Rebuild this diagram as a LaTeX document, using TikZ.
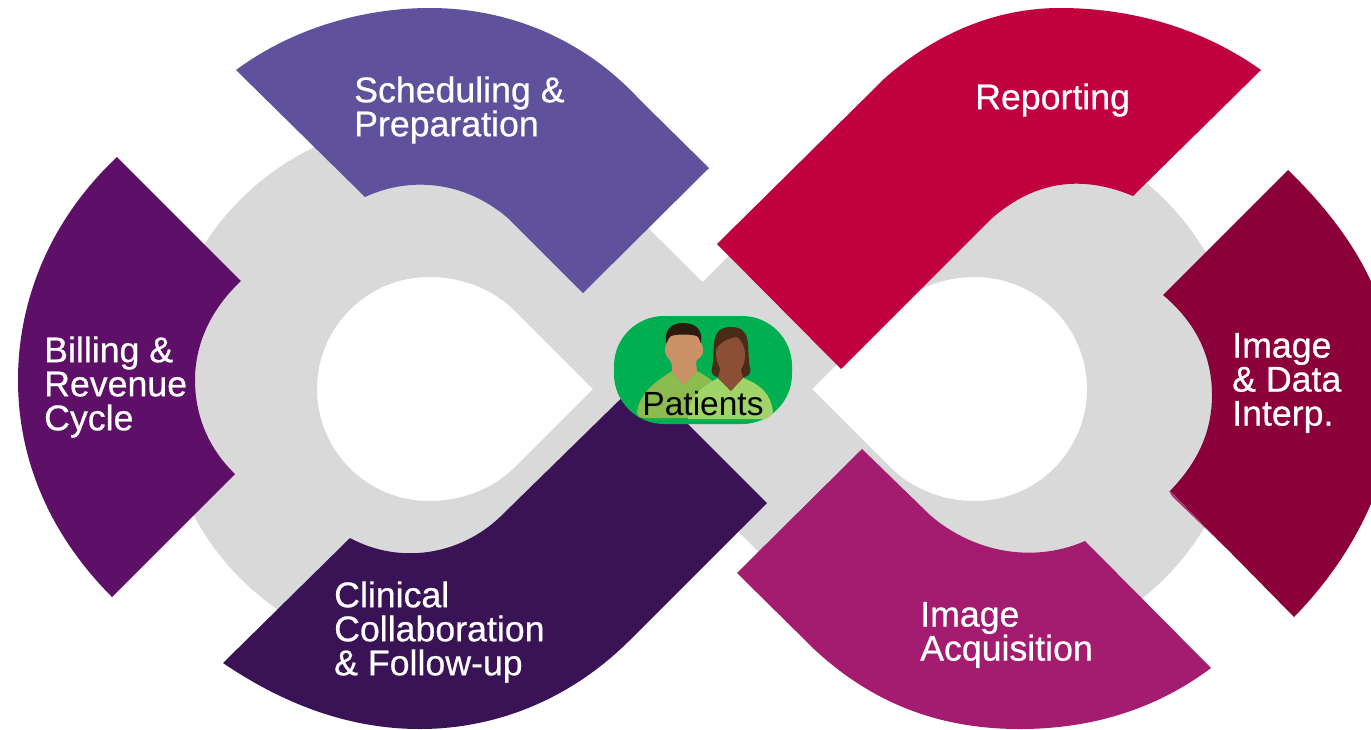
\documentclass[tikz,border=0pt]{standalone}
\usepackage{fontspec}
\setmainfont{Liberation Sans}
\newfontfamily\segfont[FakeBold=0.6]{Liberation Sans}
\definecolor{loopgrey}{HTML}{D9D9D9}
\definecolor{schedcol}{HTML}{5F519C}
\definecolor{billcol}{HTML}{5E0F68}
\definecolor{clincol}{HTML}{3A1256}
\definecolor{acqcol}{HTML}{A31C70}
\definecolor{interpcol}{HTML}{8B003B}
\definecolor{reportcol}{HTML}{C0003F}
\definecolor{badgecol}{HTML}{00B050}
\definecolor{manskin}{HTML}{CB9267}
\definecolor{manhair}{HTML}{2E1A0E}
\definecolor{manshirt}{HTML}{8CBB4F}
\definecolor{womanskin}{HTML}{8A4F35}
\definecolor{womanhair}{HTML}{4A2B18}
\definecolor{womanshirt}{HTML}{A0D468}
\tikzstyle{petal} = [draw=none]
\tikzstyle{seglabel} = [text=white,align=left,anchor=west,inner sep=0pt,font=\segfont\fontsize{35.7}{34}\selectfont]

\begin{document}
\begin{tikzpicture}[x=1pt,y=-1pt]
   \useasboundingbox (0,0) rectangle (1371,729);

   \fill[loopgrey,even odd rule]
     (619.5,199.5) arc (-45:-315:268) -- (702.5,496) -- (785.5,578.5) arc (135:-135:268) -- (702.5,282) -- cycle
     (593,389) -- (515,311) .. controls (495,291) and (465,277) .. (429,277) arc (-90:-270:112) .. controls (465,501) and (495,487) .. (515,467) -- cycle
     (812,389) -- (890,311) .. controls (910,291) and (940,277) .. (975,277) arc (-90:90:112) .. controls (940,501) and (910,487) .. (890,467) -- cycle;

   \fill[petal,schedcol] (236,70) .. controls (290,30) and (360,8) .. (430,8) .. controls (510,8) and (585,40) .. (640,100) -- (709,168) -- (583,293) -- (510,220) .. controls (470,184) and (415,174) .. (365,197) -- cycle;
   \fill[petal,billcol] (117,157) .. controls (50,220) and (18,300) .. (18,380) .. controls (18,460) and (50,535) .. (112,597) -- (235,474) .. controls (208,448) and (195,415) .. (195,380) .. controls (195,345) and (210,310) .. (241,281) -- cycle;
   \fill[petal,clincol] (223,663) -- (350,538) .. controls (400,565) and (460,555) .. (500,517) -- (642,378) -- (767,503) -- (630,640) .. controls (570,700) and (495,729) .. (420,729) .. controls (350,729) and (285,705) .. (223,663) -- cycle;
   \fill[petal,acqcol] (862,449) -- (930,515) .. controls (970,550) and (1030,565) .. (1085,541) -- (1211,668) .. controls (1155,710) and (1090,729) .. (1020,729) .. controls (950,729) and (880,710) .. (815,650) -- (737,573) -- cycle;
   \fill[petal,acqcol] (1169,491) -- (1226,548) -- (1172,496) -- cycle;
   \fill[petal,interpcol] (1288,170) .. controls (1350,230) and (1395,300) .. (1395,390) .. controls (1395,480) and (1350,560) .. (1294,617) -- (1170,491) .. controls (1195,465) and (1212,435) .. (1212,395) .. controls (1212,355) and (1195,322) .. (1163,295) -- cycle;
   \fill[petal,reportcol] (717,244) -- (885,78) .. controls (940,30) and (1000,8) .. (1060,8) .. controls (1135,8) and (1205,30) .. (1261,70) -- (1133,196) .. controls (1090,178) and (1040,175) .. (990,220) -- (841,369) -- cycle;

   \node[seglabel] (sched) at (354,110) {Scheduling \&\\Preparation};
   \node[seglabel] (bill) at (44,387) {Billing \&\\Revenue\\Cycle};
   \node[seglabel] (clin) at (334,632) {Clinical\\Collaboration\\\& Follow-up};
   \node[seglabel] (acq) at (920,635) {Image\\Acquisition};
   \node[seglabel] (interp) at (1232,383) {Image\\\& Data\\Interp.};
   \node[seglabel] (report) at (975,100) {Reporting};

   \fill[badgecol,rounded corners=50pt] (614,316) rectangle (792,424);
   \fill[manshirt] (637,412) .. controls (640,395) and (650,385) .. (672,371) -- (683,385) -- (697,371) .. controls (715,380) and (730,395) .. (730,418) -- (645,418) .. controls (640,418) and (637,416) .. (637,412) -- cycle;
   \fill[manskin] (672,355) -- (695,355) -- (697,371) -- (683,385) -- (672,371) -- cycle;
   \fill[manskin] (665,350) .. controls (665,345) and (667,343) .. (668,341) .. controls (668,335) and (675,330) .. (683,330) .. controls (692,330) and (700,335) .. (700,341) .. controls (702,344) and (703,346) .. (703,350) .. controls (703,358) and (698,358) .. (697,360) .. controls (695,368) and (690,372) .. (684,372) .. controls (678,372) and (672,368) .. (670,360) .. controls (668,358) and (665,356) .. (665,350) -- cycle;
   \fill[manhair] (666,343) .. controls (664,329) and (672,323) .. (683,323) .. controls (695,323) and (703,329) .. (701,343) .. controls (700,343) and (700,338) .. (697,336) .. controls (690,334) and (677,334) .. (671,336) .. controls (668,338) and (667,343) .. (666,343) -- cycle;
   \fill[womanhair] (712,368) .. controls (716,350) and (708,327) .. (731,327) .. controls (754,327) and (746,350) .. (750,368) .. controls (752,376) and (745,378) .. (740,377) -- (722,377) .. controls (717,378) and (710,376) .. (712,368) -- cycle;
   \fill[womanshirt] (688,419) .. controls (688,402) and (695,390) .. (718,378) -- (731,391) -- (743,378) .. controls (762,385) and (771,395) .. (773,412) .. controls (771,417) and (767,419) .. (763,419) -- cycle;
   \fill[womanskin] (722,362) -- (739,362) -- (743,378) -- (731,391) -- (718,378) -- cycle;
   \fill[womanskin] (716,352) .. controls (716,344) and (728,338) .. (737,337) .. controls (742,341) and (745,347) .. (745,355) .. controls (745,368) and (738,375) .. (731,375) .. controls (723,375) and (716,366) .. (716,352) -- cycle;
   \node[text=black,inner sep=0pt,font=\fontsize{33.5}{34}\selectfont] (patients) at (703,404) {Patients};
\end{tikzpicture}
\end{document}
